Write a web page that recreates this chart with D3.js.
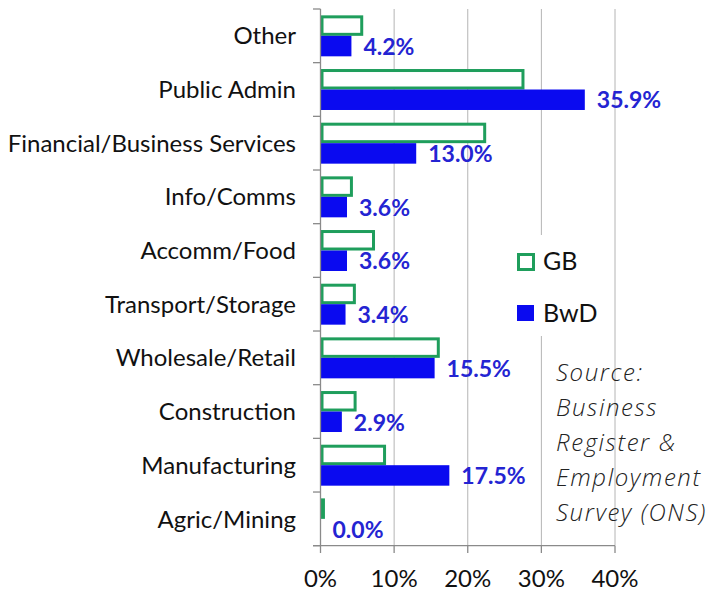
<!DOCTYPE html>
<html>
<head>
<meta charset="utf-8">
<script src="https://cdn.jsdelivr.net/npm/d3@7"></script>
<style>
  body { margin: 0; background: #fff; }
  svg { display: block; font-family: Lato, "Open Sans", sans-serif; }
</style>
</head>
<body>
<svg id="chart" width="715" height="592"></svg>
<script>
// categories listed top to bottom
const categories = ["Other", "Public Admin", "Financial/Business Services", "Info/Comms",
  "Accomm/Food", "Transport/Storage", "Wholesale/Retail", "Construction",
  "Manufacturing", "Agric/Mining"]
const gbValues  = [5.6, 27.5, 22.3, 4.2, 7.2, 4.6, 16.0, 4.7, 8.7, 0.4]
const bwdValues = [4.2, 35.9, 13.0, 3.6, 3.6, 3.4, 15.5, 2.9, 17.5, 0.0]
const xTicks = [0, 10, 20, 30, 40]
const seriesNames = ["GB", "BwD"]
const sourceLines = ["Source:", "Business", "Register &", "Employment", "Survey (ONS)"]

const svg = d3.select("#chart")

const x = d3.scaleLinear().domain([0, 40]).range([320.5, 615])
const y = d3.scaleBand().domain(categories).range([9, 545.7])
const ySub = d3.scaleBand().domain(seriesNames).range([0, y.bandwidth()]).paddingOuter(0.31)

const green = "#1f9e5c"
const blue = "#0a0af0"
const axisGrey = "#8a8a8a"

// gridlines
svg.append("g").selectAll("line")
  .data(xTicks.slice(1))
  .enter().append("line")
  .attr("x1", d => x(d)).attr("x2", d => x(d))
  .attr("y1", 9).attr("y2", 545.7)
  .attr("stroke", "#b4b4b4").attr("stroke-width", 1)

// bars
const rows = categories.map((c, i) => ({ cat: c, gb: gbValues[i], bwd: bwdValues[i] }))

const groups = svg.append("g").selectAll("g")
  .data(rows)
  .enter().append("g")
  .attr("transform", d => "translate(0," + y(d.cat) + ")")

groups.append("rect")
  .attr("x", x(0) + 1.5)
  .attr("y", ySub("GB") + 1.5)
  .attr("width", d => Math.max(0, x(d.gb) - x(0) - 1.5))
  .attr("height", ySub.bandwidth() - 3)
  .attr("fill", "#fff")
  .attr("stroke", green)
  .attr("stroke-width", 3)

groups.append("rect")
  .attr("x", x(0))
  .attr("y", ySub("BwD"))
  .attr("width", d => x(d.bwd) - x(0))
  .attr("height", ySub.bandwidth())
  .attr("fill", blue)

groups.append("text")
  .attr("x", d => x(d.bwd) + 12)
  .attr("y", ySub("BwD") + ySub.bandwidth() / 2)
  .attr("dy", "0.38em")
  .attr("font-size", 23)
  .attr("font-weight", "bold")
  .attr("fill", "#2424d2")
  .text(d => d.bwd.toFixed(1) + "%")

// category labels
svg.append("g").selectAll("text")
  .data(categories)
  .enter().append("text")
  .attr("x", 296)
  .attr("y", d => y(d) + y.bandwidth() / 2)
  .attr("dy", "0.36em")
  .attr("text-anchor", "end")
  .attr("font-size", 24)
  .attr("fill", "#111")
  .text(d => d)

// y axis line and ticks
const axisG = svg.append("g").attr("stroke", axisGrey).attr("stroke-width", 1.3)
axisG.append("line").attr("x1", 320.5).attr("x2", 320.5).attr("y1", 9).attr("y2", 545.7)
axisG.selectAll(".ytick")
  .data(categories.map(c => y(c)).concat([545.7]))
  .enter().append("line")
  .attr("x1", 313).attr("x2", 320.5)
  .attr("y1", d => d).attr("y2", d => d)

// x axis line and ticks
axisG.append("line").attr("x1", 313).attr("x2", 615).attr("y1", 545.7).attr("y2", 545.7)
axisG.selectAll(".xtick")
  .data(xTicks)
  .enter().append("line")
  .attr("x1", d => x(d)).attr("x2", d => x(d))
  .attr("y1", 545.7).attr("y2", 553)

svg.append("g").selectAll("text")
  .data(xTicks)
  .enter().append("text")
  .attr("x", d => x(d))
  .attr("y", 587)
  .attr("text-anchor", "middle")
  .attr("font-size", 24)
  .attr("fill", "#111")
  .text(d => d + "%")

// legend
svg.append("rect").attr("x", 508).attr("y", 235).attr("width", 97).attr("height", 101).attr("fill", "#fff")

const legend = svg.append("g").selectAll("g")
  .data(seriesNames)
  .enter().append("g")
  .attr("transform", (d, i) => "translate(517," + (253 + i * 52) + ")")

legend.append("rect")
  .attr("x", d => d === "GB" ? 1.5 : 0)
  .attr("y", d => d === "GB" ? 1.5 : 0)
  .attr("width", d => d === "GB" ? 15 : 17)
  .attr("height", d => d === "GB" ? 15 : 16)
  .attr("fill", d => d === "GB" ? "#fff" : blue)
  .attr("stroke", d => d === "GB" ? green : "none")
  .attr("stroke-width", 3)

legend.append("text")
  .attr("x", 26)
  .attr("y", 17)
  .attr("font-size", 25)
  .attr("fill", "#111")
  .text(d => d)

// source note
svg.append("g").selectAll("text")
  .data(sourceLines)
  .enter().append("text")
  .attr("x", 556)
  .attr("y", (d, i) => 381 + i * 35)
  .attr("font-family", "'Open Sans', sans-serif")
  .attr("font-size", 24)
  .attr("letter-spacing", 1.6)
  .attr("font-style", "italic")
  .attr("font-weight", 300)
  .attr("fill", "#222")
  .text(d => d)
</script>
</body>
</html>
